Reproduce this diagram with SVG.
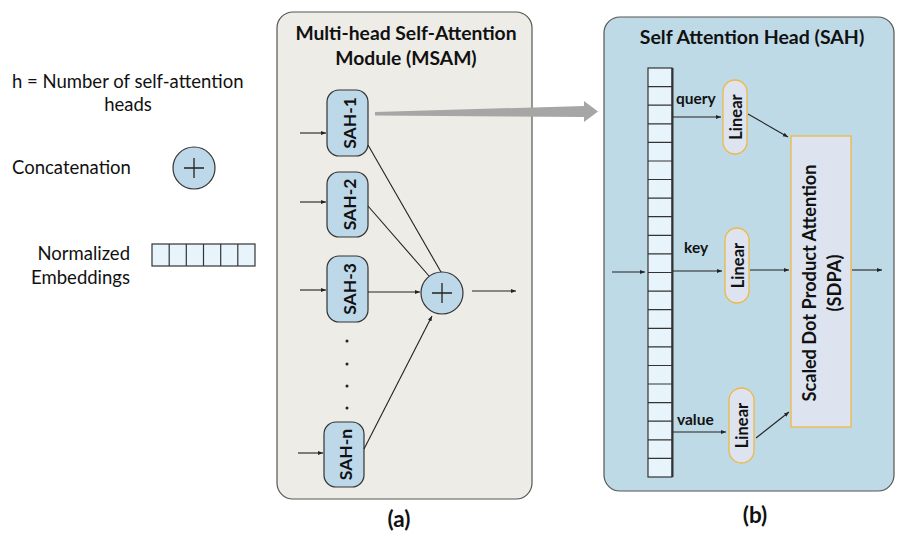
<svg xmlns="http://www.w3.org/2000/svg" width="897" height="533" viewBox="0 0 897 533">
  <defs>
    <marker id="ah" viewBox="0 0 10 10" refX="10" refY="5" markerWidth="5" markerHeight="5" markerUnits="userSpaceOnUse" orient="auto">
      <path d="M0,1 L10,5 L0,9 z" fill="#222"/>
    </marker>
    <style>
      .t { font-family: Lato, "Open Sans", sans-serif; fill: #111; }
      .b { font-weight: bold; }
      .panelA { fill: #eeece7; stroke: #555; stroke-width: 1.2; }
      .panelB { fill: #bedae7; stroke: #555; stroke-width: 1.2; }
      .head { fill: #bdd8e8; stroke: #333; stroke-width: 1.2; }
      .cell { fill: #e8f4fc; stroke: #333; stroke-width: 1.2; }
      .lin { fill: #dde4ef; stroke: #efb845; stroke-width: 1.3; }
      .conn { stroke: #222; stroke-width: 1.1; fill: none; }
      .arr { marker-end: url(#ah); }
      .vlab { font-size: 17.5px; text-anchor: middle; dominant-baseline: central; }
    </style>
  </defs>

  <!-- legend -->
  <g id="legend">
    <text class="t" x="12" y="88" font-size="18.5">h = Number of self-attention</text>
    <text class="t" x="128" y="111" font-size="18.5" text-anchor="middle">heads</text>
    <text class="t" x="12" y="174" font-size="18.5">Concatenation</text>
    <g id="legend-concat">
      <circle class="head" cx="194" cy="168" r="21"/>
      <path d="M184,168 H204 M194,158 V178" stroke="#222" stroke-width="1.3"/>
    </g>
    <text class="t" x="130" y="260" font-size="18.5" text-anchor="end">Normalized</text>
    <text class="t" x="130" y="284" font-size="18.5" text-anchor="end">Embeddings</text>
    <g id="legend-embed">
      <rect class="cell" x="152" y="244" width="103" height="22"/>
      <path d="M169.2,244 V266 M186.3,244 V266 M203.5,244 V266 M220.7,244 V266 M237.8,244 V266" stroke="#333" stroke-width="1.2"/>
    </g>
  </g>

  <!-- (a) multi-head module -->
  <g id="msam">
    <rect class="panelA" x="277" y="12" width="255" height="487" rx="16"/>
    <text class="t b" x="406" y="40" font-size="19.3" text-anchor="middle">Multi-head Self-Attention</text>
    <text class="t b" x="406" y="65" font-size="19.3" text-anchor="middle">Module (MSAM)</text>
  </g>
  <g id="sah1">
    <rect class="head" x="327" y="90" width="41" height="66" rx="12"/>
    <text class="t b vlab" transform="translate(349,123) rotate(-90)">SAH-1</text>
  </g>
  <g id="sah2">
    <rect class="head" x="327" y="172" width="41" height="65" rx="12"/>
    <text class="t b vlab" transform="translate(349,204.5) rotate(-90)">SAH-2</text>
  </g>
  <g id="sah3">
    <rect class="head" x="327" y="256" width="41" height="66" rx="12"/>
    <text class="t b vlab" transform="translate(349,289) rotate(-90)">SAH-3</text>
  </g>
  <g id="sahn">
    <rect class="head" x="324" y="422" width="40" height="65" rx="12"/>
    <text class="t b vlab" transform="translate(345.5,454.5) rotate(-90)">SAH-n</text>
  </g>
  <g id="dots" fill="#222">
    <circle cx="347" cy="341" r="1.5"/>
    <circle cx="347" cy="364" r="1.5"/>
    <circle cx="347" cy="386" r="1.5"/>
    <circle cx="347" cy="408" r="1.5"/>
  </g>
  <g id="concat">
    <circle class="head" cx="442" cy="293" r="21"/>
    <path d="M432,293 H452 M442,283 V303" stroke="#222" stroke-width="1.3"/>
  </g>
  <text class="t b" x="399" y="527" font-size="22.5" text-anchor="middle">(a)</text>

  <!-- (b) self-attention head -->
  <g id="sah-panel">
    <rect class="panelB" x="604" y="17" width="290" height="474" rx="16"/>
    <text class="t b" x="752" y="44" font-size="19.5" text-anchor="middle">Self Attention Head (SAH)</text>
  </g>
  <g id="embedding">
    <rect class="cell" x="648" y="68" width="24" height="409"/>
    <path d="M648,86.6 H672 M648,105.2 H672 M648,123.8 H672 M648,142.4 H672 M648,161 H672 M648,179.5 H672 M648,198.1 H672 M648,216.7 H672 M648,235.3 H672 M648,253.9 H672 M648,272.5 H672 M648,291.1 H672 M648,309.7 H672 M648,328.3 H672 M648,346.9 H672 M648,365.5 H672 M648,384 H672 M648,402.6 H672 M648,421.2 H672 M648,439.8 H672 M648,458.4 H672" stroke="#333" stroke-width="1.2"/>
    <path d="M672.5,68 V477" stroke="#333" stroke-width="2"/>
  </g>
  <g id="lin-q">
    <rect class="lin" x="723" y="80" width="24" height="74" rx="12"/>
    <text class="t b" font-size="16.5" text-anchor="middle" dominant-baseline="central" transform="translate(735.5,117) rotate(-90)">Linear</text>
  </g>
  <g id="lin-k">
    <rect class="lin" x="725" y="228" width="24" height="75" rx="12"/>
    <text class="t b" font-size="16.5" text-anchor="middle" dominant-baseline="central" transform="translate(737.5,265.5) rotate(-90)">Linear</text>
  </g>
  <g id="lin-v">
    <rect class="lin" x="729" y="388" width="25" height="75" rx="12.5"/>
    <text class="t b" font-size="16.5" text-anchor="middle" dominant-baseline="central" transform="translate(742,425.5) rotate(-90)">Linear</text>
  </g>
  <g id="sdpa">
    <rect class="lin" x="791" y="136" width="60" height="291" rx="0"/>
    <text class="t b" font-size="18.2" text-anchor="middle" dominant-baseline="central" transform="translate(809,283) rotate(-90)">Scaled Dot Product Attention</text>
    <text class="t b" font-size="18.2" text-anchor="middle" dominant-baseline="central" transform="translate(834,283) rotate(-90)">(SDPA)</text>
  </g>
  <text class="t b" x="676" y="104" font-size="15.5">query</text>
  <text class="t b" x="684" y="253" font-size="15.5">key</text>
  <text class="t b" x="677" y="425" font-size="15.5">value</text>
  <text class="t b" x="755" y="523" font-size="22.5" text-anchor="middle">(b)</text>

  <!-- connectors -->
  <g id="connectors">
    <path class="conn arr" d="M300,133 H326"/>
    <path class="conn arr" d="M300,202 H326"/>
    <path class="conn arr" d="M300,290 H326"/>
    <path class="conn arr" d="M298,453 H323"/>
    <path class="conn" d="M368,145 L441,272"/>
    <path class="conn" d="M368,206 L429,276"/>
    <path class="conn arr" d="M368,292 H420"/>
    <path class="conn arr" d="M364,449 L432,316"/>
    <path class="conn arr" d="M472,291 H516"/>
    <!-- head expansion arrow -->
    <path d="M375,112 L584,106 L584,101 L598,111.5 L584,122 L584,117 L375,115.5 z" fill="#a6a6a6"/>
    <path class="conn arr" d="M612,272 H645"/>
    <path class="conn arr" d="M673,117 H721"/>
    <path class="conn arr" d="M673,271 H722"/>
    <path class="conn arr" d="M673,432 H726"/>
    <path class="conn arr" d="M748,114 L788,137"/>
    <path class="conn arr" d="M750,270 H789"/>
    <path class="conn arr" d="M756,438 L789,412"/>
    <path class="conn arr" d="M852,270 H882"/>
  </g>
</svg>
